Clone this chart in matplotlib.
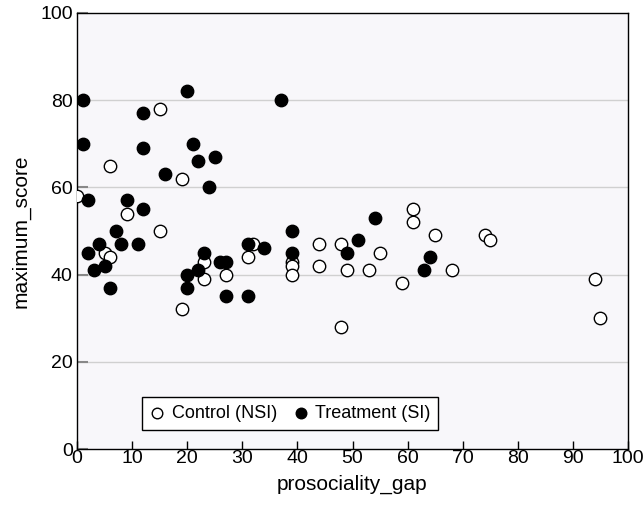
import matplotlib
matplotlib.use("Agg")
import matplotlib.pyplot as plt

plt.rcParams['font.family'] = ['Liberation Sans', 'DejaVu Sans']

control_x = [0, 5, 6, 6, 9, 15, 15, 19, 19, 23, 23, 27, 31, 32, 39, 39, 39, 44, 44,
             48, 48, 49, 53, 55, 59, 61, 61, 65, 68, 74, 75, 94, 95]
control_y = [58, 45, 65, 44, 54, 78, 50, 62, 32, 43, 39, 40, 44, 47, 43, 42, 40, 47, 42,
             47, 28, 41, 41, 45, 38, 55, 52, 49, 41, 49, 48, 39, 30]

treat_x = [1, 1, 2, 2, 3, 4, 5, 6, 7, 8, 9, 11, 12, 12, 12, 16, 20, 20, 20, 21, 22, 22,
           23, 24, 25, 26, 27, 27, 31, 31, 34, 37, 39, 39, 49, 51, 54, 63, 64]
treat_y = [80, 70, 57, 45, 41, 47, 42, 37, 50, 47, 57, 47, 77, 69, 55, 63, 82, 40, 37, 70, 66, 41,
           45, 60, 67, 43, 43, 35, 47, 35, 46, 80, 50, 45, 45, 48, 53, 41, 44]

x_ticks = [0, 10, 20, 30, 40, 50, 60, 70, 80, 90, 100]
y_ticks = [0, 20, 40, 60, 80, 100]

fig = plt.figure(figsize=(6.43, 5.14), dpi=100)
ax = fig.add_axes([77/643, 1-449/514, 551/643, 436/514])
ax.set_facecolor('#f8f7fa')

for y in [20, 40, 60, 80]:
    ax.axhline(y, color='#d0d0d0', lw=1.0, zorder=0)

ax.scatter(control_x, control_y, s=80, facecolors='white', edgecolors='black',
           linewidths=1.0, label='Control (NSI)', zorder=3)
ax.scatter(treat_x, treat_y, s=80, facecolors='black', edgecolors='black',
           linewidths=1.0, label='Treatment (SI)', zorder=3)

ax.set_xlim(0, 100)
ax.set_ylim(0, 100)
ax.set_xticks(x_ticks)
ax.set_yticks(y_ticks)
ax.tick_params(axis='x', direction='in', length=6, width=1, color='black',
               labelsize=14, pad=1)
ax.tick_params(axis='y', direction='in', length=8, width=1.5, color='#888888',
               labelsize=14, pad=3)
for s in ax.spines.values():
    s.set_color('black')
    s.set_linewidth(1.0)

ax.set_xlabel('prosociality_gap', fontsize=15, labelpad=5)
ax.set_ylabel('maximum_score', fontsize=15, labelpad=7)

leg = ax.legend(loc='lower left', bbox_to_anchor=(0.118, 0.043), ncol=2,
                frameon=True, fancybox=False, edgecolor='black', facecolor='white',
                framealpha=1, fontsize=13, handlelength=0.8, handletextpad=0.4,
                columnspacing=0.9, borderpad=0.45, borderaxespad=0,
                markerscale=0.85)
leg.get_frame().set_linewidth(1.0)

fig.savefig('out.png', dpi=100)
